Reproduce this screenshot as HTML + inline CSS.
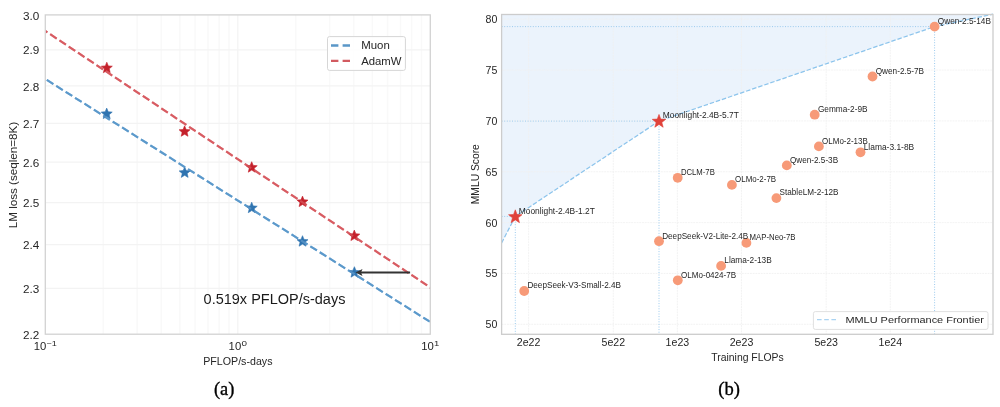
<!DOCTYPE html>
<html><head><meta charset="utf-8"><style>
html,body{margin:0;padding:0;background:#fff;width:1000px;height:407px;overflow:hidden}
svg{display:block;font-family:"Liberation Sans", sans-serif}
</style></head><body><div style="will-change:transform">
<svg width="1000" height="407" viewBox="0 0 1000 407">
<rect width="1000" height="407" fill="#ffffff"/>
<g>
<line x1="103.25" y1="14.9" x2="103.25" y2="334.2" stroke="#f9f9f9" stroke-width="1.5"/>
<line x1="137.15" y1="14.9" x2="137.15" y2="334.2" stroke="#f9f9f9" stroke-width="1.5"/>
<line x1="161.20" y1="14.9" x2="161.20" y2="334.2" stroke="#f9f9f9" stroke-width="1.5"/>
<line x1="179.85" y1="14.9" x2="179.85" y2="334.2" stroke="#f9f9f9" stroke-width="1.5"/>
<line x1="195.09" y1="14.9" x2="195.09" y2="334.2" stroke="#f9f9f9" stroke-width="1.5"/>
<line x1="207.98" y1="14.9" x2="207.98" y2="334.2" stroke="#f9f9f9" stroke-width="1.5"/>
<line x1="219.14" y1="14.9" x2="219.14" y2="334.2" stroke="#f9f9f9" stroke-width="1.5"/>
<line x1="228.99" y1="14.9" x2="228.99" y2="334.2" stroke="#f9f9f9" stroke-width="1.5"/>
<line x1="295.75" y1="14.9" x2="295.75" y2="334.2" stroke="#f9f9f9" stroke-width="1.5"/>
<line x1="329.65" y1="14.9" x2="329.65" y2="334.2" stroke="#f9f9f9" stroke-width="1.5"/>
<line x1="353.70" y1="14.9" x2="353.70" y2="334.2" stroke="#f9f9f9" stroke-width="1.5"/>
<line x1="372.35" y1="14.9" x2="372.35" y2="334.2" stroke="#f9f9f9" stroke-width="1.5"/>
<line x1="387.59" y1="14.9" x2="387.59" y2="334.2" stroke="#f9f9f9" stroke-width="1.5"/>
<line x1="400.48" y1="14.9" x2="400.48" y2="334.2" stroke="#f9f9f9" stroke-width="1.5"/>
<line x1="411.64" y1="14.9" x2="411.64" y2="334.2" stroke="#f9f9f9" stroke-width="1.5"/>
<line x1="421.49" y1="14.9" x2="421.49" y2="334.2" stroke="#f9f9f9" stroke-width="1.5"/>
<line x1="237.80" y1="14.9" x2="237.80" y2="334.2" stroke="#f4f4f4" stroke-width="1.3"/>
<line x1="45.3" y1="288.44" x2="430.3" y2="288.44" stroke="#f3f3f3" stroke-width="1.3"/>
<line x1="45.3" y1="244.63" x2="430.3" y2="244.63" stroke="#f3f3f3" stroke-width="1.3"/>
<line x1="45.3" y1="202.60" x2="430.3" y2="202.60" stroke="#f3f3f3" stroke-width="1.3"/>
<line x1="45.3" y1="162.22" x2="430.3" y2="162.22" stroke="#f3f3f3" stroke-width="1.3"/>
<line x1="45.3" y1="123.37" x2="430.3" y2="123.37" stroke="#f3f3f3" stroke-width="1.3"/>
<line x1="45.3" y1="85.93" x2="430.3" y2="85.93" stroke="#f3f3f3" stroke-width="1.3"/>
<line x1="45.3" y1="49.80" x2="430.3" y2="49.80" stroke="#f3f3f3" stroke-width="1.3"/>
</g>
<defs><clipPath id="lc"><rect x="45.30" y="14.90" width="385.00" height="319.30"/></clipPath></defs>
<g clip-path="url(#lc)">
<line x1="38" y1="26.08" x2="440" y2="293.97" stroke-width="2.1" stroke-dasharray="7.77 3.36" stroke-dashoffset="7.6" stroke="#d0444c"/>
<line x1="38" y1="74.39" x2="440" y2="328.13" stroke-width="2.1" stroke-dasharray="7.77 3.36" stroke-dashoffset="0.7" stroke="#3f87c0"/>
</g>
<polygon points="106.80,62.20 105.27,65.89 101.28,66.21 104.32,68.81 103.39,72.69 106.80,70.61 110.21,72.69 109.28,68.81 112.32,66.21 108.33,65.89" fill="#c4212b" stroke="#c4212b" stroke-width="0.6" stroke-linejoin="miter" stroke-miterlimit="10"/>
<polygon points="184.60,125.80 183.07,129.49 179.08,129.81 182.12,132.41 181.19,136.29 184.60,134.21 188.01,136.29 187.08,132.41 190.12,129.81 186.13,129.49" fill="#c4212b" stroke="#c4212b" stroke-width="0.6" stroke-linejoin="miter" stroke-miterlimit="10"/>
<polygon points="251.70,161.70 250.17,165.39 246.18,165.71 249.22,168.31 248.29,172.19 251.70,170.11 255.11,172.19 254.18,168.31 257.22,165.71 253.23,165.39" fill="#c4212b" stroke="#c4212b" stroke-width="0.6" stroke-linejoin="miter" stroke-miterlimit="10"/>
<polygon points="302.50,196.10 300.97,199.79 296.98,200.11 300.02,202.71 299.09,206.59 302.50,204.51 305.91,206.59 304.98,202.71 308.02,200.11 304.03,199.79" fill="#c4212b" stroke="#c4212b" stroke-width="0.6" stroke-linejoin="miter" stroke-miterlimit="10"/>
<polygon points="354.30,230.10 352.77,233.79 348.78,234.11 351.82,236.71 350.89,240.59 354.30,238.51 357.71,240.59 356.78,236.71 359.82,234.11 355.83,233.79" fill="#c4212b" stroke="#c4212b" stroke-width="0.6" stroke-linejoin="miter" stroke-miterlimit="10"/>
<polygon points="106.70,108.10 105.17,111.79 101.18,112.11 104.22,114.71 103.29,118.59 106.70,116.51 110.11,118.59 109.18,114.71 112.22,112.11 108.23,111.79" fill="#2f74b0" stroke="#2f74b0" stroke-width="0.6" stroke-linejoin="miter" stroke-miterlimit="10"/>
<polygon points="184.70,166.90 183.17,170.59 179.18,170.91 182.22,173.51 181.29,177.39 184.70,175.31 188.11,177.39 187.18,173.51 190.22,170.91 186.23,170.59" fill="#2f74b0" stroke="#2f74b0" stroke-width="0.6" stroke-linejoin="miter" stroke-miterlimit="10"/>
<polygon points="251.70,202.20 250.17,205.89 246.18,206.21 249.22,208.81 248.29,212.69 251.70,210.61 255.11,212.69 254.18,208.81 257.22,206.21 253.23,205.89" fill="#2f74b0" stroke="#2f74b0" stroke-width="0.6" stroke-linejoin="miter" stroke-miterlimit="10"/>
<polygon points="302.50,235.70 300.97,239.39 296.98,239.71 300.02,242.31 299.09,246.19 302.50,244.11 305.91,246.19 304.98,242.31 308.02,239.71 304.03,239.39" fill="#2f74b0" stroke="#2f74b0" stroke-width="0.6" stroke-linejoin="miter" stroke-miterlimit="10"/>
<polygon points="354.40,266.70 352.87,270.39 348.88,270.71 351.92,273.31 350.99,277.19 354.40,275.11 357.81,277.19 356.88,273.31 359.92,270.71 355.93,270.39" fill="#2f74b0" stroke="#2f74b0" stroke-width="0.6" stroke-linejoin="miter" stroke-miterlimit="10"/>
<g clip-path="url(#lc)" opacity="0.45">
<line x1="38" y1="26.08" x2="440" y2="293.97" stroke-width="2.1" stroke-dasharray="7.77 3.36" stroke-dashoffset="7.6" stroke="#e27a7e"/>
<line x1="38" y1="74.39" x2="440" y2="328.13" stroke-width="2.1" stroke-dasharray="7.77 3.36" stroke-dashoffset="0.7" stroke="#7fb0da"/>
</g>
<line x1="410.1" y1="272.4" x2="361" y2="272.4" stroke="#333333" stroke-width="2"/>
<polygon points="355.5,272.4 362.5,268.9 361,272.4 362.5,275.9" fill="#333333"/>
<rect x="45.3" y="14.9" width="385.00" height="319.30" fill="none" stroke="#d2d2d2" stroke-width="1.3"/>
<rect x="327.5" y="36.6" width="77.9" height="33.8" rx="2" ry="2" fill="#ffffff" fill-opacity="0.85" stroke="#d6d6d6" stroke-width="1"/>
<line x1="331" y1="45.5" x2="350.5" y2="45.5" stroke="#5a97c8" stroke-width="2.3" stroke-dasharray="7.4 4.2"/>
<line x1="331" y1="60.8" x2="350.5" y2="60.8" stroke="#d25a60" stroke-width="2.3" stroke-dasharray="7.4 4.2"/>
<text x="361.20" y="49.20" font-size="10.2" text-anchor="start" fill="#262626" textLength="28.60" lengthAdjust="spacingAndGlyphs">Muon</text>
<text x="361.20" y="64.60" font-size="10.2" text-anchor="start" fill="#262626" textLength="40.30" lengthAdjust="spacingAndGlyphs">AdamW</text>
<text x="39.40" y="19.50" font-size="10.9" text-anchor="end" fill="#262626" textLength="16.30" lengthAdjust="spacingAndGlyphs">3.0</text>
<text x="39.40" y="54.40" font-size="10.9" text-anchor="end" fill="#262626" textLength="16.30" lengthAdjust="spacingAndGlyphs">2.9</text>
<text x="39.40" y="90.53" font-size="10.9" text-anchor="end" fill="#262626" textLength="16.30" lengthAdjust="spacingAndGlyphs">2.8</text>
<text x="39.40" y="127.97" font-size="10.9" text-anchor="end" fill="#262626" textLength="16.30" lengthAdjust="spacingAndGlyphs">2.7</text>
<text x="39.40" y="166.82" font-size="10.9" text-anchor="end" fill="#262626" textLength="16.30" lengthAdjust="spacingAndGlyphs">2.6</text>
<text x="39.40" y="207.20" font-size="10.9" text-anchor="end" fill="#262626" textLength="16.30" lengthAdjust="spacingAndGlyphs">2.5</text>
<text x="39.40" y="249.23" font-size="10.9" text-anchor="end" fill="#262626" textLength="16.30" lengthAdjust="spacingAndGlyphs">2.4</text>
<text x="39.40" y="293.04" font-size="10.9" text-anchor="end" fill="#262626" textLength="16.30" lengthAdjust="spacingAndGlyphs">2.3</text>
<text x="39.40" y="338.80" font-size="10.9" text-anchor="end" fill="#262626" textLength="16.30" lengthAdjust="spacingAndGlyphs">2.2</text>
<text x="33.70" y="349.70" font-size="10.4" text-anchor="start" fill="#262626" textLength="12.60" lengthAdjust="spacingAndGlyphs">10</text><text x="46.60" y="346.20" font-size="7.3" text-anchor="start" fill="#262626" textLength="10.30" lengthAdjust="spacingAndGlyphs">−1</text>
<text x="228.60" y="349.70" font-size="10.4" text-anchor="start" fill="#262626" textLength="12.60" lengthAdjust="spacingAndGlyphs">10</text><text x="241.50" y="346.20" font-size="7.3" text-anchor="start" fill="#262626" textLength="5.50" lengthAdjust="spacingAndGlyphs">0</text>
<text x="421.20" y="349.70" font-size="10.4" text-anchor="start" fill="#262626" textLength="12.60" lengthAdjust="spacingAndGlyphs">10</text><text x="434.10" y="346.20" font-size="7.3" text-anchor="start" fill="#262626" textLength="5.30" lengthAdjust="spacingAndGlyphs">1</text>
<text x="203.20" y="364.80" font-size="10.5" text-anchor="start" fill="#262626" textLength="69.30" lengthAdjust="spacingAndGlyphs">PFLOP/s-days</text>
<text x="16.60" y="175.00" font-size="10.2" text-anchor="middle" fill="#262626" textLength="106.50" lengthAdjust="spacingAndGlyphs" transform="rotate(-90 16.6 175.0)">LM loss (seqlen=8K)</text>
<text x="203.60" y="303.80" font-size="14.9" text-anchor="start" fill="#1a1a1a" textLength="141.80" lengthAdjust="spacingAndGlyphs">0.519x PFLOP/s-days</text>
<text x="224.1" y="394.8" font-size="19.3" text-anchor="middle" fill="#000" font-family="'Liberation Serif', serif" stroke="#000" stroke-width="0.35" textLength="20.4" lengthAdjust="spacingAndGlyphs">(a)</text>
<polygon points="501.60,243.00 515.30,216.40 659.00,121.10 934.60,26.60 993.00,14.20 993.0,14.5 501.6,14.5" fill="#ebf3fc"/>
<line x1="528.59" y1="14.5" x2="528.59" y2="334.3" stroke="#f0f0f0" stroke-width="0.8" stroke-dasharray="1.9 0.8"/>
<line x1="613.31" y1="14.5" x2="613.31" y2="334.3" stroke="#f0f0f0" stroke-width="0.8" stroke-dasharray="1.9 0.8"/>
<line x1="677.40" y1="14.5" x2="677.40" y2="334.3" stroke="#f0f0f0" stroke-width="0.8" stroke-dasharray="1.9 0.8"/>
<line x1="741.49" y1="14.5" x2="741.49" y2="334.3" stroke="#f0f0f0" stroke-width="0.8" stroke-dasharray="1.9 0.8"/>
<line x1="826.21" y1="14.5" x2="826.21" y2="334.3" stroke="#f0f0f0" stroke-width="0.8" stroke-dasharray="1.9 0.8"/>
<line x1="890.30" y1="14.5" x2="890.30" y2="334.3" stroke="#f0f0f0" stroke-width="0.8" stroke-dasharray="1.9 0.8"/>
<line x1="501.6" y1="324.30" x2="993.0" y2="324.30" stroke="#f0f0f0" stroke-width="0.8" stroke-dasharray="1.9 0.8"/>
<line x1="501.6" y1="273.45" x2="993.0" y2="273.45" stroke="#f0f0f0" stroke-width="0.8" stroke-dasharray="1.9 0.8"/>
<line x1="501.6" y1="222.60" x2="993.0" y2="222.60" stroke="#f0f0f0" stroke-width="0.8" stroke-dasharray="1.9 0.8"/>
<line x1="501.6" y1="171.75" x2="993.0" y2="171.75" stroke="#f0f0f0" stroke-width="0.8" stroke-dasharray="1.9 0.8"/>
<line x1="501.6" y1="120.90" x2="993.0" y2="120.90" stroke="#f0f0f0" stroke-width="0.8" stroke-dasharray="1.9 0.8"/>
<line x1="501.6" y1="70.05" x2="993.0" y2="70.05" stroke="#f0f0f0" stroke-width="0.8" stroke-dasharray="1.9 0.8"/>
<line x1="501.6" y1="19.20" x2="993.0" y2="19.20" stroke="#f0f0f0" stroke-width="0.8" stroke-dasharray="1.9 0.8"/>
<line x1="501.6" y1="216.40" x2="515.30" y2="216.40" stroke="#9ccbee" stroke-width="1" stroke-dasharray="1 1.6"/>
<line x1="515.30" y1="216.40" x2="515.30" y2="334.3" stroke="#9ccbee" stroke-width="1" stroke-dasharray="1 1.6"/>
<line x1="501.6" y1="121.10" x2="659.00" y2="121.10" stroke="#9ccbee" stroke-width="1" stroke-dasharray="1 1.6"/>
<line x1="659.00" y1="121.10" x2="659.00" y2="334.3" stroke="#9ccbee" stroke-width="1" stroke-dasharray="1 1.6"/>
<line x1="501.6" y1="26.60" x2="934.60" y2="26.60" stroke="#9ccbee" stroke-width="1" stroke-dasharray="1 1.6"/>
<line x1="934.60" y1="26.60" x2="934.60" y2="334.3" stroke="#9ccbee" stroke-width="1" stroke-dasharray="1 1.6"/>
<polyline points="501.60,243.00 515.30,216.40 659.00,121.10 934.60,26.60 993.00,14.20" fill="none" stroke="#8cc4ec" stroke-width="1.25" stroke-dasharray="4.5 1.9"/>
<circle cx="934.60" cy="26.60" r="4.9" fill="#f79a78"/>
<circle cx="872.50" cy="76.50" r="4.9" fill="#f79a78"/>
<circle cx="814.70" cy="114.70" r="4.9" fill="#f79a78"/>
<circle cx="818.90" cy="146.40" r="4.9" fill="#f79a78"/>
<circle cx="860.50" cy="152.30" r="4.9" fill="#f79a78"/>
<circle cx="786.80" cy="165.40" r="4.9" fill="#f79a78"/>
<circle cx="776.40" cy="198.10" r="4.9" fill="#f79a78"/>
<circle cx="677.70" cy="177.80" r="4.9" fill="#f79a78"/>
<circle cx="731.90" cy="184.90" r="4.9" fill="#f79a78"/>
<circle cx="659.00" cy="241.20" r="4.9" fill="#f79a78"/>
<circle cx="746.40" cy="242.90" r="4.9" fill="#f79a78"/>
<circle cx="721.10" cy="265.90" r="4.9" fill="#f79a78"/>
<circle cx="677.80" cy="280.30" r="4.9" fill="#f79a78"/>
<circle cx="524.20" cy="291.00" r="4.9" fill="#f79a78"/>
<text x="937.80" y="23.90" font-size="8.3" text-anchor="start" fill="#262626" textLength="53.10" lengthAdjust="spacingAndGlyphs">Qwen-2.5-14B</text>
<text x="875.70" y="73.80" font-size="8.3" text-anchor="start" fill="#262626" textLength="48.40" lengthAdjust="spacingAndGlyphs">Qwen-2.5-7B</text>
<text x="817.90" y="112.00" font-size="8.3" text-anchor="start" fill="#262626" textLength="49.70" lengthAdjust="spacingAndGlyphs">Gemma-2-9B</text>
<text x="822.10" y="143.70" font-size="8.3" text-anchor="start" fill="#262626" textLength="45.70" lengthAdjust="spacingAndGlyphs">OLMo-2-13B</text>
<text x="863.70" y="149.60" font-size="8.3" text-anchor="start" fill="#262626" textLength="50.50" lengthAdjust="spacingAndGlyphs">Llama-3.1-8B</text>
<text x="790.00" y="162.70" font-size="8.3" text-anchor="start" fill="#262626" textLength="48.10" lengthAdjust="spacingAndGlyphs">Qwen-2.5-3B</text>
<text x="779.60" y="195.40" font-size="8.3" text-anchor="start" fill="#262626" textLength="58.90" lengthAdjust="spacingAndGlyphs">StableLM-2-12B</text>
<text x="680.90" y="175.10" font-size="8.3" text-anchor="start" fill="#262626" textLength="33.90" lengthAdjust="spacingAndGlyphs">DCLM-7B</text>
<text x="735.10" y="182.20" font-size="8.3" text-anchor="start" fill="#262626" textLength="41.00" lengthAdjust="spacingAndGlyphs">OLMo-2-7B</text>
<text x="662.20" y="238.50" font-size="8.3" text-anchor="start" fill="#262626" textLength="86.10" lengthAdjust="spacingAndGlyphs">DeepSeek-V2-Lite-2.4B</text>
<text x="749.60" y="240.20" font-size="8.3" text-anchor="start" fill="#262626" textLength="45.80" lengthAdjust="spacingAndGlyphs">MAP-Neo-7B</text>
<text x="724.30" y="263.20" font-size="8.3" text-anchor="start" fill="#262626" textLength="47.40" lengthAdjust="spacingAndGlyphs">Llama-2-13B</text>
<text x="681.00" y="277.60" font-size="8.3" text-anchor="start" fill="#262626" textLength="55.10" lengthAdjust="spacingAndGlyphs">OLMo-0424-7B</text>
<text x="527.40" y="288.30" font-size="8.3" text-anchor="start" fill="#262626" textLength="93.60" lengthAdjust="spacingAndGlyphs">DeepSeek-V3-Small-2.4B</text>
<polygon points="515.30,209.80 513.55,214.49 508.55,214.71 512.46,217.82 511.13,222.64 515.30,219.88 519.47,222.64 518.14,217.82 522.05,214.71 517.05,214.49" fill="#e0423a" stroke="#e0423a" stroke-width="0.6" stroke-linejoin="miter" stroke-miterlimit="10"/>
<polygon points="659.00,114.40 657.25,119.09 652.25,119.31 656.16,122.42 654.83,127.24 659.00,124.48 663.17,127.24 661.84,122.42 665.75,119.31 660.75,119.09" fill="#e0423a" stroke="#e0423a" stroke-width="0.6" stroke-linejoin="miter" stroke-miterlimit="10"/>
<text x="518.80" y="213.80" font-size="8.3" text-anchor="start" fill="#262626" textLength="76.00" lengthAdjust="spacingAndGlyphs">Moonlight-2.4B-1.2T</text>
<text x="662.80" y="118.30" font-size="8.3" text-anchor="start" fill="#262626" textLength="76.00" lengthAdjust="spacingAndGlyphs">Moonlight-2.4B-5.7T</text>
<rect x="501.6" y="14.5" width="491.40" height="319.80" fill="none" stroke="#cccccc" stroke-width="1.3"/>
<rect x="813.4" y="311.6" width="174.6" height="17.8" rx="2" ry="2" fill="#ffffff" fill-opacity="0.9" stroke="#e0e0e0" stroke-width="1"/>
<line x1="817" y1="319.6" x2="836" y2="319.6" stroke="#a9d3f2" stroke-width="1.4" stroke-dasharray="4.6 2.6"/>
<text x="845.40" y="323.40" font-size="9.9" text-anchor="start" fill="#262626" textLength="138.50" lengthAdjust="spacingAndGlyphs">MMLU Performance Frontier</text>
<text x="497.40" y="328.30" font-size="10.5" text-anchor="end" fill="#262626" textLength="11.80" lengthAdjust="spacingAndGlyphs">50</text>
<text x="497.40" y="277.45" font-size="10.5" text-anchor="end" fill="#262626" textLength="11.80" lengthAdjust="spacingAndGlyphs">55</text>
<text x="497.40" y="226.60" font-size="10.5" text-anchor="end" fill="#262626" textLength="11.80" lengthAdjust="spacingAndGlyphs">60</text>
<text x="497.40" y="175.75" font-size="10.5" text-anchor="end" fill="#262626" textLength="11.80" lengthAdjust="spacingAndGlyphs">65</text>
<text x="497.40" y="124.90" font-size="10.5" text-anchor="end" fill="#262626" textLength="11.80" lengthAdjust="spacingAndGlyphs">70</text>
<text x="497.40" y="74.05" font-size="10.5" text-anchor="end" fill="#262626" textLength="11.80" lengthAdjust="spacingAndGlyphs">75</text>
<text x="497.40" y="23.20" font-size="10.5" text-anchor="end" fill="#262626" textLength="11.80" lengthAdjust="spacingAndGlyphs">80</text>
<text x="528.59" y="346.30" font-size="10.3" text-anchor="middle" fill="#262626" textLength="23.60" lengthAdjust="spacingAndGlyphs">2e22</text>
<text x="613.31" y="346.30" font-size="10.3" text-anchor="middle" fill="#262626" textLength="23.60" lengthAdjust="spacingAndGlyphs">5e22</text>
<text x="677.40" y="346.30" font-size="10.3" text-anchor="middle" fill="#262626" textLength="23.60" lengthAdjust="spacingAndGlyphs">1e23</text>
<text x="741.49" y="346.30" font-size="10.3" text-anchor="middle" fill="#262626" textLength="23.60" lengthAdjust="spacingAndGlyphs">2e23</text>
<text x="826.21" y="346.30" font-size="10.3" text-anchor="middle" fill="#262626" textLength="23.60" lengthAdjust="spacingAndGlyphs">5e23</text>
<text x="890.30" y="346.30" font-size="10.3" text-anchor="middle" fill="#262626" textLength="23.60" lengthAdjust="spacingAndGlyphs">1e24</text>
<text x="747.50" y="360.70" font-size="10.5" text-anchor="middle" fill="#262626" textLength="72.50" lengthAdjust="spacingAndGlyphs">Training FLOPs</text>
<text x="478.80" y="174.20" font-size="10.4" text-anchor="middle" fill="#262626" textLength="60.00" lengthAdjust="spacingAndGlyphs" transform="rotate(-90 478.8 174.2)">MMLU Score</text>
<text x="729.1" y="394.6" font-size="19.3" text-anchor="middle" fill="#000" font-family="'Liberation Serif', serif" stroke="#000" stroke-width="0.35" textLength="21.6" lengthAdjust="spacingAndGlyphs">(b)</text>
</svg></div></body></html>
